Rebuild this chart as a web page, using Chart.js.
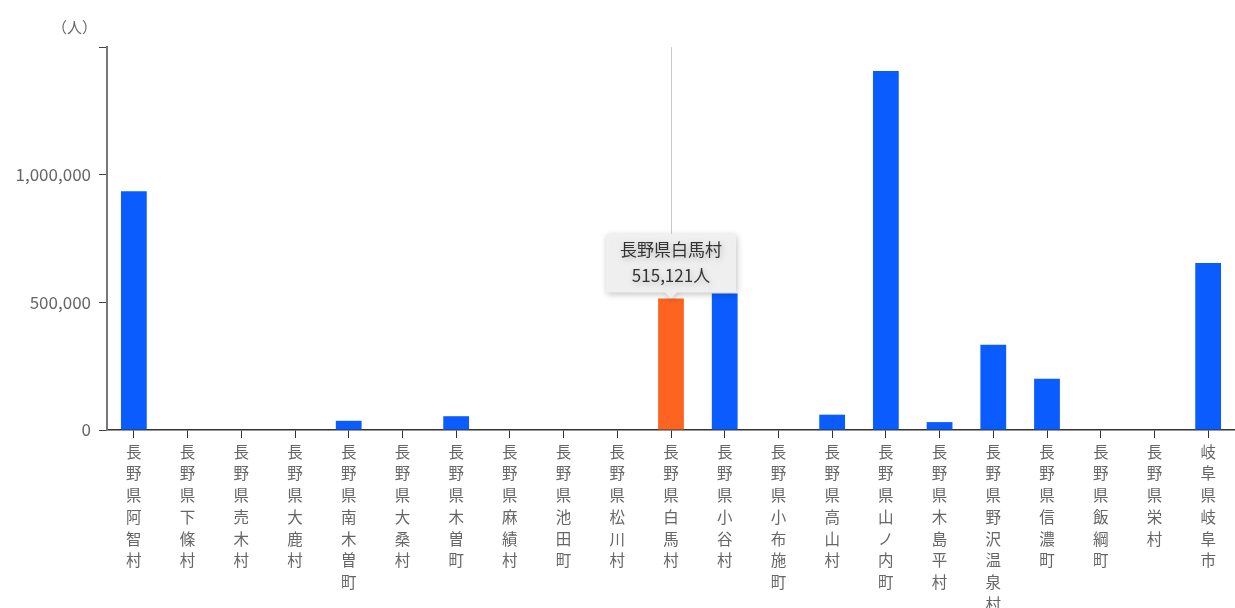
<!DOCTYPE html>
<html>
<head>
<meta charset="utf-8">
<script src="https://cdn.jsdelivr.net/npm/chart.js@4/dist/chart.umd.min.js"></script>
<style>
  html, body { margin: 0; padding: 0; background: #fff; }
  #wrap { width: 1235px; height: 608px; }
</style>
</head>
<body>
<div id="wrap"><canvas id="chart"></canvas></div>
<script>
// Data
const NAMES = [
  "長野県阿智村", "長野県下條村", "長野県売木村", "長野県大鹿村", "長野県南木曽町",
  "長野県大桑村", "長野県木曽町", "長野県麻績村", "長野県池田町", "長野県松川村",
  "長野県白馬村", "長野県小谷村", "長野県小布施町", "長野県高山村", "長野県山ノ内町",
  "長野県木島平村", "長野県野沢温泉村", "長野県信濃町", "長野県飯綱町", "長野県栄村",
  "岐阜県岐阜市"
];
const VISITORS = [
  935000, 0, 0, 0, 36000,
  0, 54000, 0, 0, 0,
  515121, 535000, 0, 60000, 1406000,
  31000, 334000, 201000, 0, 0,
  654000
];
const Y_TICKS = [0, 500000, 1000000, 1500000];
const UNIT = "（人）";
const HIGHLIGHT = 10;

const BLUE = "#0a5cff";
const ORANGE = "#fd6421";

// one character per line -> vertical labels
const labels = NAMES.map(n => Array.from(n));
const colors = VISITORS.map((v, i) => i === HIGHLIGHT ? ORANGE : BLUE);

const fontFamily = '"Noto Sans CJK JP", "Noto Sans", sans-serif';

// vertical hover line + unit label
const extras = {
  id: "extras",
  afterDatasetsDraw(chart) {
    const { ctx, chartArea } = chart;
    const bar = chart.getDatasetMeta(0).data[HIGHLIGHT];
    ctx.save();
    ctx.strokeStyle = "#c8c8c8";
    ctx.lineWidth = 1;
    ctx.beginPath();
    ctx.moveTo(Math.round(bar.x) + 0.5, chartArea.top);
    ctx.lineTo(Math.round(bar.x) + 0.5, bar.y);
    ctx.stroke();

    ctx.fillStyle = "#666";
    ctx.font = "15px " + fontFamily;
    ctx.textAlign = "right";
    ctx.textBaseline = "middle";
    ctx.fillText(UNIT, chartArea.left - 10, chartArea.top - 20);
    ctx.restore();
  },
  beforeTooltipDraw(chart) {
    const ctx = chart.ctx;
    ctx.save();
    ctx.shadowColor = "rgba(0,0,0,0.25)";
    ctx.shadowBlur = 6;
    ctx.shadowOffsetX = 1;
    ctx.shadowOffsetY = 2;
  },
  afterTooltipDraw(chart) {
    chart.ctx.restore();
  }
};

const chart = new Chart(document.getElementById("chart"), {
  type: "bar",
  data: {
    labels: labels,
    datasets: [{
      data: VISITORS,
      backgroundColor: colors,
      hoverBackgroundColor: colors,
      borderWidth: 0,
      barPercentage: 0.48,
      categoryPercentage: 1.0
    }]
  },
  options: {
    responsive: true,
    maintainAspectRatio: false,
    animation: false,
    events: [],
    layout: { padding: { top: 47, right: 0, left: 0, bottom: 0 } },
    plugins: {
      legend: { display: false },
      tooltip: {
        enabled: true,
        yAlign: "bottom",
        xAlign: "center",
        backgroundColor: "rgba(240,240,240,0.96)",
        titleColor: "#333",
        bodyColor: "#333",
        titleFont: { family: fontFamily, size: 17, weight: "normal" },
        bodyFont: { family: fontFamily, size: 17 },
        titleAlign: "center",
        bodyAlign: "center",
        titleMarginBottom: 5,
        padding: { top: 6, bottom: 7, left: 14, right: 14 },
        caretSize: 6,
        caretPadding: 0,
        cornerRadius: 2,
        displayColors: false,
        callbacks: {
          title: items => NAMES[items[0].dataIndex],
          label: item => item.raw.toLocaleString("en-US") + "人"
        }
      }
    },
    scales: {
      x: {
        grid: {
          display: true,
          offset: false,
          drawOnChartArea: false,
          drawTicks: true,
          tickLength: 8,
          color: "#333"
        },
        border: { display: true, color: "#333", width: 1.5 },
        ticks: {
          autoSkip: false,
          maxRotation: 0,
          minRotation: 0,
          padding: 3,
          color: "#666",
          font: { family: fontFamily, size: 15.5, lineHeight: 1.4 }
        },
        afterFit(scale) { scale.height = 178; }
      },
      y: {
        min: 0,
        max: 1500000,
        afterBuildTicks(scale) { scale.ticks = Y_TICKS.map(v => ({ value: v })); },
        grid: {
          display: true,
          drawOnChartArea: false,
          drawTicks: true,
          tickLength: 8,
          color: "#444"
        },
        border: { display: true, color: "#777", width: 2 },
        ticks: {
          padding: 8,
          color: "#666",
          font: { family: fontFamily, size: 17 },
          callback: v => v === 1500000 ? "" : v.toLocaleString("en-US")
        },
        afterFit(scale) { scale.width = 107; }
      }
    }
  },
  plugins: [extras]
});

// show the tooltip on the highlighted bar
const bar = chart.getDatasetMeta(0).data[HIGHLIGHT];
chart.tooltip.setActiveElements([{ datasetIndex: 0, index: HIGHLIGHT }], { x: bar.x, y: bar.y });
chart.update();
</script>
</body>
</html>
